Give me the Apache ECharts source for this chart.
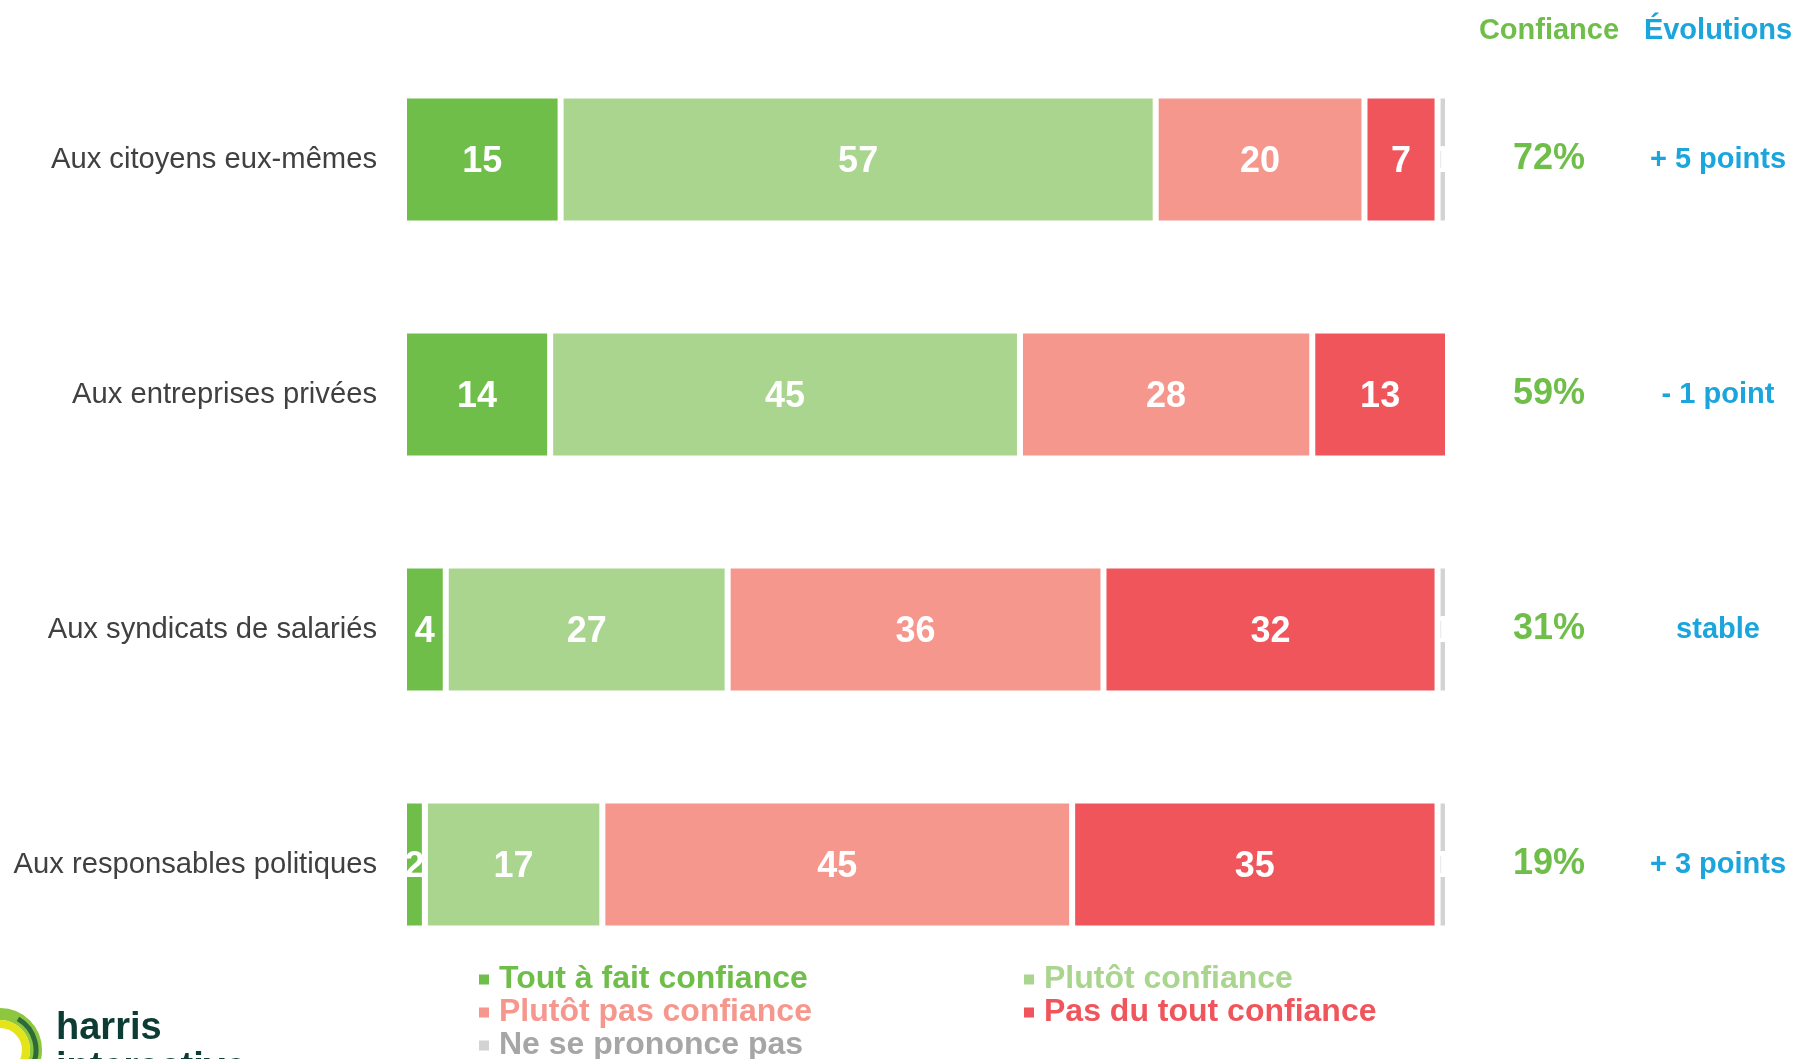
<!DOCTYPE html>
<html>
<head>
<meta charset="utf-8">
<script src="https://cdn.jsdelivr.net/npm/echarts@6/dist/echarts.min.js"></script>
<style>
  html, body { margin: 0; padding: 0; background: #fff; }
  #chart { width: 1796px; height: 1059px; }
</style>
</head>
<body>
<div id="chart"></div>
<script>
const categories = [
  "Aux citoyens eux-mêmes",
  "Aux entreprises privées",
  "Aux syndicats de salariés",
  "Aux responsables politiques"
];
const toutAFait = [15, 14, 4, 2];
const plutot = [57, 45, 27, 17];
const plutotPas = [20, 28, 36, 45];
const pasDuTout = [7, 13, 32, 35];
const nsp = [1, 0, 1, 1];
const confiance = ["72%", "59%", "31%", "19%"];
const evolutions = ["+ 5 points", "- 1 point", "stable", "+ 3 points"];

const FONT = "'Liberation Sans', Arial, sans-serif";
const GREEN = "#6fbe4a";
const BLUE = "#1ba5dd";

const seriesDefs = [
  { name: "Tout à fait confiance", data: toutAFait, color: "#6fbe4a", text: "#6fbe4a" },
  { name: "Plutôt confiance", data: plutot, color: "#aad58f", text: "#aad58f" },
  { name: "Plutôt pas confiance", data: plutotPas, color: "#f5978d", text: "#f5978d" },
  { name: "Pas du tout confiance", data: pasDuTout, color: "#ef555b", text: "#ef555b" },
  { name: "Ne se prononce pas", data: nsp, color: "#d3d3d3", text: "#a6a6a6" }
];

const legendItem = (d) => ({ name: d.name, textStyle: { color: d.text } });
const legendBase = {
  orient: "vertical",
  top: 963,
  height: 120,
  padding: 0,
  itemGap: 0,
  itemWidth: 12,
  itemHeight: 12,
  icon: "rect",
  textStyle: {
    fontFamily: FONT,
    fontSize: 32,
    fontWeight: "bold",
    lineHeight: 33,
    padding: [0, 0, 0, 4]
  }
};

const myChart = echarts.init(document.getElementById("chart"));
const option = {
  backgroundColor: "#fff",
  animation: false,
  grid: { left: 404, right: 348, top: 42, bottom: 77 },
  legend: [
    Object.assign({}, legendBase, {
      left: 477,
      data: [seriesDefs[0], seriesDefs[2], seriesDefs[4]].map(legendItem)
    }),
    Object.assign({}, legendBase, {
      left: 1022,
      data: [seriesDefs[1], seriesDefs[3]].map(legendItem)
    })
  ],
  xAxis: {
    type: "value",
    min: 0,
    max: 100,
    show: false
  },
  yAxis: [
    {
      type: "category",
      inverse: true,
      data: categories,
      axisLine: { show: false },
      axisTick: { show: false },
      axisLabel: {
        margin: 27,
        fontFamily: FONT,
        fontSize: 29.2,
        color: "#404040",
        padding: [6, 0, 0, 0]
      }
    },
    {
      type: "category",
      inverse: true,
      position: "right",
      data: confiance,
      axisLine: { show: false },
      axisTick: { show: false },
      axisLabel: {
        interval: 0,
        margin: 101,
        align: "center",
        fontFamily: FONT,
        fontSize: 36,
        fontWeight: "bold",
        color: GREEN,
        padding: [2, 0, 0, 0]
      }
    },
    {
      type: "category",
      inverse: true,
      position: "right",
      data: evolutions,
      axisLine: { show: false },
      axisTick: { show: false },
      axisLabel: {
        interval: 0,
        margin: 270,
        align: "center",
        fontFamily: FONT,
        fontSize: 29,
        fontWeight: "bold",
        color: BLUE
      }
    }
  ],
  series: seriesDefs.map((d) => ({
    name: d.name,
    type: "bar",
    stack: "total",
    yAxisIndex: 0,
    barWidth: 128,
    data: d.data,
    itemStyle: { color: d.color, borderColor: "#fff", borderWidth: 3 },
    label: {
      show: true,
      position: "inside",
      offset: [0, 3],
      color: "#fff",
      fontFamily: FONT,
      fontSize: 36,
      fontWeight: "bold",
      formatter: (p) => (p.value ? p.value : "")
    }
  })),
  graphic: [
    {
      type: "text",
      x: 1549,
      y: 31,
      style: {
        text: "Confiance",
        fill: GREEN,
        font: "bold 29px " + FONT,
        textAlign: "center",
        textVerticalAlign: "middle"
      }
    },
    {
      type: "text",
      x: 1718,
      y: 31,
      style: {
        text: "Évolutions",
        fill: BLUE,
        font: "bold 29px " + FONT,
        textAlign: "center",
        textVerticalAlign: "middle"
      }
    },
    // harris interactive logo (cut off at the bottom edge)
    {
      type: "arc",
      shape: { cx: 0, cy: 1050, r: 36, startAngle: -Math.PI / 2, endAngle: Math.PI / 2 },
      style: { stroke: "#8dc63f", lineWidth: 12, fill: null }
    },
    {
      type: "arc",
      shape: { cx: 0, cy: 1050, r: 36, startAngle: -Math.PI / 3, endAngle: Math.PI / 5 },
      style: { stroke: "#2e6b3a", lineWidth: 5, fill: null }
    },
    {
      type: "arc",
      shape: { cx: 0, cy: 1050, r: 26, startAngle: -Math.PI / 2, endAngle: Math.PI / 2 },
      style: { stroke: "#e3e41a", lineWidth: 8, fill: null }
    },
    {
      type: "text",
      x: 56,
      y: 1048,
      style: {
        text: "harris",
        fill: "#0c3c33",
        font: "bold 38px " + FONT,
        textAlign: "left",
        textVerticalAlign: "bottom"
      }
    },
    {
      type: "text",
      x: 56,
      y: 1050,
      style: {
        text: "interactive",
        fill: "#0c3c33",
        font: "bold 38px " + FONT,
        textAlign: "left",
        textVerticalAlign: "top"
      }
    }
  ]
};
myChart.setOption(option);
</script>
</body>
</html>
